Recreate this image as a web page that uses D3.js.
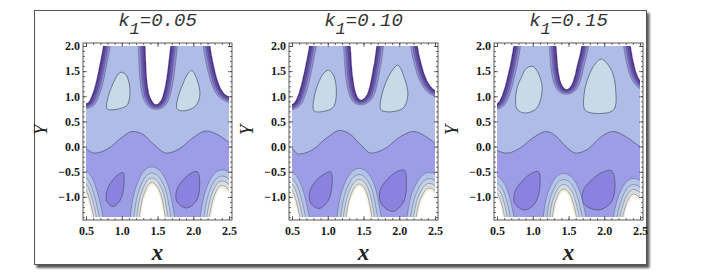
<!DOCTYPE html>
<html>
<head>
<meta charset="utf-8">
<script src="https://cdn.jsdelivr.net/npm/d3@7"></script>
<style>
  body { margin: 0; background: #fff; }
</style>
</head>
<body>
<svg id="chart" width="719" height="279"></svg>
<script>
// --- data (x, y in plot units) ---

const kLabels = ["0.05", "0.10", "0.15"];
const xTicks = [0.5, 1.0, 1.5, 2.0, 2.5];
const yTicks = [-1.0, -0.5, 0.0, 0.5, 1.0, 1.5, 2.0];

// upper channel wall, one list per panel
const upperWalls = [
  [[0.40, 0.92], [0.47, 0.85], [0.53, 0.88], [0.59, 1.05], [0.65, 1.35], [0.70, 1.70], [0.74, 2.00], [0.78, 2.40], [1.03, 2.90],
   [1.30, 2.40], [1.33, 2.00], [1.345, 1.50], [1.37, 1.15], [1.42, 0.92], [1.48, 0.84], [1.54, 0.90], [1.59, 1.10], [1.63, 1.40],
   [1.66, 1.75], [1.68, 2.00], [1.71, 2.40], [1.96, 2.90], [2.21, 2.40], [2.24, 2.00], [2.29, 1.60], [2.35, 1.28], [2.42, 1.08],
   [2.50, 0.99], [2.57, 0.95]],
  [[0.40, 0.90], [0.47, 0.83], [0.53, 0.87], [0.59, 1.05], [0.65, 1.36], [0.70, 1.70], [0.74, 2.00], [0.78, 2.40], [1.03, 2.90],
   [1.29, 2.40], [1.32, 2.00], [1.34, 1.55], [1.37, 1.22], [1.41, 1.01], [1.46, 0.93], [1.52, 0.98], [1.58, 1.17], [1.62, 1.45],
   [1.66, 1.78], [1.68, 2.00], [1.71, 2.40], [1.97, 2.90], [2.23, 2.40], [2.26, 2.00], [2.31, 1.65], [2.37, 1.38], [2.44, 1.20],
   [2.50, 1.12], [2.57, 1.08]],
  [[0.40, 0.92], [0.47, 0.84], [0.53, 0.90], [0.59, 1.10], [0.65, 1.42], [0.70, 1.75], [0.73, 2.00], [0.77, 2.40], [1.03, 2.90],
   [1.30, 2.40], [1.33, 2.00], [1.35, 1.62], [1.38, 1.35], [1.42, 1.20], [1.47, 1.14], [1.53, 1.20], [1.58, 1.38], [1.63, 1.68],
   [1.66, 1.85], [1.68, 2.00], [1.71, 2.40], [2.00, 2.90], [2.33, 2.40], [2.37, 2.00], [2.42, 1.62], [2.46, 1.43], [2.50, 1.32],
   [2.57, 1.22]]
];

// lower channel wall
const lowerWalls = [
  [[0.33, -0.86], [0.40, -0.79], [0.47, -0.86], [0.52, -1.04], [0.565, -1.28], [0.595, -1.50], [0.63, -1.90], [0.93, -2.60],
   [1.23, -1.90], [1.26, -1.50], [1.29, -1.20], [1.345, -0.92], [1.42, -0.77], [1.49, -0.86], [1.545, -1.08], [1.58, -1.35],
   [1.61, -1.60], [1.64, -1.90], [1.93, -2.60], [2.21, -1.90], [2.24, -1.50], [2.275, -1.20], [2.33, -0.95], [2.40, -0.83],
   [2.47, -0.88], [2.53, -1.00]],
  [[0.33, -0.89], [0.41, -0.82], [0.48, -0.89], [0.53, -1.07], [0.57, -1.30], [0.60, -1.52], [0.63, -1.90], [0.94, -2.60],
   [1.24, -1.90], [1.27, -1.50], [1.30, -1.22], [1.355, -0.95], [1.44, -0.80], [1.51, -0.90], [1.555, -1.10], [1.59, -1.37],
   [1.62, -1.60], [1.65, -1.90], [1.94, -2.60], [2.22, -1.90], [2.25, -1.50], [2.285, -1.22], [2.345, -0.99], [2.42, -0.88],
   [2.485, -0.93], [2.54, -1.05]],
  [[0.34, -0.98], [0.42, -0.92], [0.49, -0.98], [0.535, -1.12], [0.57, -1.32], [0.60, -1.55], [0.63, -1.90], [0.95, -2.60],
   [1.26, -1.90], [1.285, -1.55], [1.31, -1.28], [1.36, -1.03], [1.43, -0.90], [1.50, -0.98], [1.545, -1.15], [1.585, -1.38],
   [1.615, -1.60], [1.645, -1.90], [1.95, -2.60], [2.24, -1.90], [2.27, -1.50], [2.31, -1.25], [2.355, -1.08], [2.41, -1.00],
   [2.47, -1.04], [2.53, -1.14]]
];

// contour splitting the upper (light) and lower (darker) part of the channel
const midLines = [
  [[0.45, 0.02], [0.50, -0.04], [0.62, -0.13], [0.80, -0.05], [1.00, 0.18], [1.15, 0.30], [1.30, 0.24], [1.45, 0.04],
   [1.63, -0.13], [1.80, -0.05], [2.00, 0.18], [2.18, 0.31], [2.35, 0.23], [2.50, 0.08], [2.55, 0.03]],
  [[0.45, 0.02], [0.50, -0.03], [0.59, -0.15], [0.78, -0.07], [1.00, 0.19], [1.17, 0.32], [1.32, 0.24], [1.45, 0.05],
   [1.61, -0.13], [1.80, -0.04], [2.02, 0.20], [2.20, 0.30], [2.36, 0.21], [2.50, 0.07], [2.55, 0.02]],
  [[0.45, -0.02], [0.50, -0.07], [0.64, -0.13], [0.82, -0.03], [1.02, 0.19], [1.19, 0.30], [1.33, 0.20], [1.45, 0.02],
   [1.61, -0.13], [1.78, -0.04], [1.96, 0.20], [2.13, 0.30], [2.30, 0.20], [2.50, 0.00], [2.55, -0.04]]
];

// trapped bolus contours above the mid line (lightest)
const upperBoluses = [
  [[[1.00, 1.48], [1.07, 1.40], [1.115, 1.13], [1.09, 0.86], [1.045, 0.79], [0.835, 0.73], [0.79, 0.76], [0.81, 0.99], [0.88, 1.26], [0.94, 1.42]],
   [[1.98, 1.51], [2.07, 1.26], [2.09, 0.99], [2.02, 0.79], [1.84, 0.71], [1.77, 0.76], [1.79, 0.99], [1.86, 1.26], [1.92, 1.44]]],
  [[[1.01, 1.52], [1.08, 1.42], [1.12, 1.14], [1.10, 0.85], [1.05, 0.75], [0.84, 0.69], [0.80, 0.73], [0.81, 0.98], [0.87, 1.27], [0.94, 1.45]],
   [[1.98, 1.62], [2.08, 1.33], [2.12, 1.01], [2.05, 0.76], [1.83, 0.69], [1.74, 0.74], [1.75, 0.99], [1.82, 1.30], [1.91, 1.53]]],
  [[[1.01, 1.59], [1.125, 1.26], [1.11, 0.93], [1.03, 0.73], [0.87, 0.67], [0.775, 0.76], [0.775, 1.13], [0.845, 1.39], [0.915, 1.56]],
   [[1.96, 1.74], [2.10, 1.52], [2.16, 1.13], [2.13, 0.73], [1.87, 0.66], [1.73, 0.73], [1.72, 1.06], [1.78, 1.39], [1.87, 1.64]]]
];

// trapped bolus contours below the mid line (darkest purple)
const lowerBoluses = [
  [[[1.02, -0.52], [1.03, -0.76], [0.98, -1.06], [0.88, -1.19], [0.79, -1.09], [0.79, -0.89], [0.86, -0.69], [0.95, -0.56]],
   [[2.06, -0.50], [2.09, -0.76], [2.05, -1.06], [1.91, -1.22], [1.77, -1.09], [1.77, -0.86], [1.86, -0.66], [1.98, -0.52]]],
  [[[1.04, -0.50], [1.06, -0.77], [1.00, -1.09], [0.88, -1.23], [0.76, -1.12], [0.75, -0.89], [0.84, -0.67], [0.96, -0.54]],
   [[2.07, -0.47], [2.10, -0.76], [2.06, -1.10], [1.91, -1.29], [1.75, -1.14], [1.73, -0.88], [1.84, -0.64], [1.98, -0.49]]],
  [[[1.08, -0.50], [1.10, -0.80], [1.03, -1.13], [0.89, -1.26], [0.75, -1.13], [0.75, -0.90], [0.87, -0.66], [0.985, -0.53]],
   [[2.10, -0.48], [2.15, -0.73], [2.10, -1.10], [1.92, -1.26], [1.71, -1.13], [1.71, -0.86], [1.85, -0.63], [1.99, -0.50]]]
];

// --- layout and styles ---

const svg = d3.select("#chart");
const defs = svg.append("defs");

const plotTop = 46, plotW = 143, plotH = 171;
const panelLeft = [86, 292, 497];

const colLower = "#9c9de6";
const colUpper = "#b0bce8";
const colBolusUp = "#c8d9e7";
const colBolusLow = "#8b82df";
const lineCol = "#4e4e68";
// bands hugging the walls, listed from the wall inwards
const upperBandDepths = [1.1, 2.3, 3.5, 5.0];
const upperBandColors = ["#4d2f8e", "#6149aa", "#7869c4", "#918ed9"];
const lowerBandDepths = [1.6, 4.2, 7, 10.5];
const lowerBandColors = ["#f3f0da", "#d5dde2", "#c2cfe6", "#b4c3ea"];

// outer box with a drop shadow
const shadow = defs.append("filter").attr("id", "shadow")
    .attr("x", "-5%").attr("y", "-5%").attr("width", "112%").attr("height", "115%");
shadow.append("feDropShadow")
    .attr("dx", 2.5).attr("dy", 3).attr("stdDeviation", 1.3)
    .attr("flood-color", "#000").attr("flood-opacity", 0.65);

svg.append("rect")
    .attr("x", 34.5).attr("y", 10.5)
    .attr("width", 612).attr("height", 254)
    .attr("fill", "#fff")
    .attr("stroke", "#555")
    .attr("filter", "url(#shadow)");

// distance (in px, stretched per axis) from every grid point to a wall, then banded with d3.contours
function drawWall(plot, pts, x, y, side, depths, colors, ax, ay) {
    const wallLine = d3.line().x(d => x(d[0])).y(d => y(d[1])).curve(d3.curveMonotoneX);
    const tmp = svg.append("path").attr("d", wallLine(pts)).attr("fill", "none");
    const node = tmp.node();
    const len = node.getTotalLength();

    const gx0 = x.range()[0] - 4, gy0 = y.range()[1] - 4;
    const nx = plotW + 9, ny = plotH + 9;

    const sx = [], sy = [];
    for (let s = 0; s <= len; s += 0.6) {
        const q = node.getPointAtLength(s);
        sx.push(q.x); sy.push(q.y);
    }
    tmp.remove();

    // wall height for every grid column
    const colY = new Float64Array(nx);
    let k = 0;
    for (let i = 0; i < nx; i++) {
        const px = gx0 + i;
        while (k < sx.length - 2 && sx[k + 1] < px) k++;
        const t = Math.max(0, Math.min(1, (px - sx[k]) / ((sx[k + 1] - sx[k]) || 1)));
        colY[i] = sy[k] + (sy[k + 1] - sy[k]) * t;
    }

    // only wall samples near the grid matter
    const fx = [], fy = [];
    sx.forEach((v, m) => {
        if (v > gx0 - 40 && v < gx0 + nx + 40 && sy[m] > gy0 - 60 && sy[m] < gy0 + ny + 60) {
            fx.push(v); fy.push(sy[m]);
        }
    });

    const vals = new Float64Array(nx * ny);
    for (let j = 0; j < ny; j++) {
        const py = gy0 + j;
        for (let i = 0; i < nx; i++) {
            const px = gx0 + i;
            let best = 900;
            for (let m = 0; m < fx.length; m++) {
                const dx = (px - fx[m]) * ax, dy = (py - fy[m]) * ay;
                const d2 = dx * dx + dy * dy;
                if (d2 < best) best = d2;
            }
            const d = Math.sqrt(best);
            const inside = side > 0 ? py > colY[i] : py < colY[i];
            vals[j * nx + i] = inside ? -d : d;
        }
    }

    const thresholds = depths.slice().reverse().map(t => -t).concat([0]);
    const bands = d3.contours().size([nx, ny]).thresholds(thresholds)(Array.from(vals));
    const gg = plot.append("g").attr("transform", `translate(${gx0 - 0.5},${gy0 - 0.5})`);
    const path = d3.geoPath();
    bands.forEach((c, idx) => {
        const isOutside = idx === bands.length - 1;
        gg.append("path")
            .attr("d", path(c))
            .attr("fill", isOutside ? "#fff" : colors[depths.length - 1 - idx])
            .attr("stroke", isOutside ? "none" : lineCol)
            .attr("stroke-width", 0.55)
            .attr("stroke-opacity", 0.75);
    });
}

function drawPanel(p) {
    const x0 = panelLeft[p];
    const x = d3.scaleLinear().domain([0.5, 2.5]).range([x0, x0 + plotW]);
    const y = d3.scaleLinear().domain([-1.4, 2.0]).range([plotTop + plotH, plotTop]);
    const g = svg.append("g");

    defs.append("clipPath").attr("id", "clip" + p)
        .append("rect")
        .attr("x", x0).attr("y", plotTop)
        .attr("width", plotW).attr("height", plotH);

    const plot = g.append("g").attr("clip-path", `url(#clip${p})`);

    plot.append("rect")
        .attr("x", x0).attr("y", plotTop)
        .attr("width", plotW).attr("height", plotH)
        .attr("fill", colLower);

    // upper half of the channel, above the mid contour
    const upperArea = d3.area()
        .x(d => x(d[0]))
        .y0(plotTop - 10)
        .y1(d => y(d[1]))
        .curve(d3.curveMonotoneX);
    const midLine = d3.line().x(d => x(d[0])).y(d => y(d[1])).curve(d3.curveMonotoneX);

    plot.append("path").datum(midLines[p]).attr("d", upperArea).attr("fill", colUpper);
    plot.append("path").datum(midLines[p]).attr("d", midLine)
        .attr("fill", "none").attr("stroke", lineCol).attr("stroke-width", 0.7);

    const blob = d3.line().x(d => x(d[0])).y(d => y(d[1])).curve(d3.curveCatmullRomClosed.alpha(0.5));
    upperBoluses[p].forEach(b => {
        plot.append("path").attr("d", blob(b))
            .attr("fill", colBolusUp).attr("stroke", lineCol).attr("stroke-width", 0.7);
    });
    lowerBoluses[p].forEach(b => {
        plot.append("path").attr("d", blob(b))
            .attr("fill", colBolusLow).attr("stroke", lineCol).attr("stroke-width", 0.7);
    });

    drawWall(plot, upperWalls[p], x, y, 1, upperBandDepths, upperBandColors, 0.7, 1);
    drawWall(plot, lowerWalls[p], x, y, -1, lowerBandDepths, lowerBandColors, 1, 0.57);

    // frame with inward ticks on all four sides
    const fL = x0 - 3, fR = x0 + plotW + 3, fT = plotTop - 3, fB = plotTop + plotH + 3;
    g.append("rect")
        .attr("x", fL).attr("y", fT)
        .attr("width", fR - fL).attr("height", fB - fT)
        .attr("fill", "none").attr("stroke", "#333").attr("stroke-width", 0.8);

    const minorX = d3.range(5, 26).map(v => v / 10);
    const minorY = d3.range(-14, 21).map(v => v / 10);
    const fmt = d3.format(".1f");
    const none = () => "";

    const axes = [
        [d3.axisBottom(x).tickValues(xTicks).tickFormat(fmt).tickSize(-4).tickPadding(6), `translate(0,${fB})`],
        [d3.axisBottom(x).tickValues(minorX).tickFormat(none).tickSize(-2), `translate(0,${fB})`],
        [d3.axisTop(x).tickValues(xTicks).tickFormat(none).tickSize(-4), `translate(0,${fT})`],
        [d3.axisTop(x).tickValues(minorX).tickFormat(none).tickSize(-2), `translate(0,${fT})`],
        [d3.axisLeft(y).tickValues(yTicks).tickFormat(fmt).tickSize(-4).tickPadding(3), `translate(${fL},0)`],
        [d3.axisLeft(y).tickValues(minorY).tickFormat(none).tickSize(-2), `translate(${fL},0)`],
        [d3.axisRight(y).tickValues(yTicks).tickFormat(none).tickSize(-4), `translate(${fR},0)`],
        [d3.axisRight(y).tickValues(minorY).tickFormat(none).tickSize(-2), `translate(${fR},0)`]
    ];
    axes.forEach(([axis, tr]) => {
        const a = g.append("g").attr("transform", tr).call(axis);
        a.select(".domain").remove();
        a.selectAll("line").attr("stroke", "#333").attr("stroke-width", 0.7);
        a.attr("font-family", "'Liberation Serif', serif")
            .attr("font-size", 12)
            .attr("font-weight", "bold");
        a.selectAll("text").attr("fill", "#1a1a1a");
    });

    // axis titles
    g.append("text")
        .attr("x", x0 + plotW / 2).attr("y", 260)
        .attr("text-anchor", "middle")
        .attr("font-family", "'Liberation Serif', serif")
        .attr("font-style", "italic").attr("font-weight", "bold")
        .attr("font-size", 23).attr("fill", "#222")
        .text("x");

    g.append("text")
        .attr("transform", `translate(${x0 - 39},${130}) rotate(-90)`)
        .attr("text-anchor", "middle")
        .attr("font-family", "'Liberation Serif', serif")
        .attr("font-style", "italic")
        .attr("font-size", 19).attr("fill", "#222")
        .text("Y");

    // panel title k1=...
    const title = g.append("text")
        .attr("x", x0 + plotW / 2).attr("y", 26)
        .attr("text-anchor", "middle")
        .attr("font-family", "'Liberation Mono', monospace")
        .attr("font-style", "italic")
        .attr("font-size", 19).attr("fill", "#333");
    title.append("tspan").text("k");
    title.append("tspan").attr("dy", 8).attr("font-size", 17).text("1");
    title.append("tspan").attr("dy", -8).text("=" + kLabels[p]);
}

kLabels.forEach((k, p) => drawPanel(p));
</script>
</body>
</html>
